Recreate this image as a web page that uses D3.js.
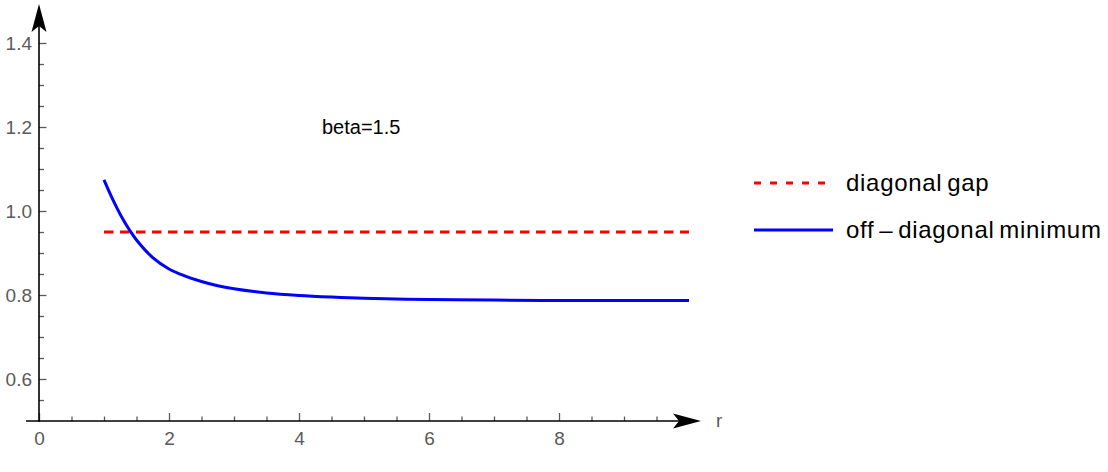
<!DOCTYPE html>
<html>
<head>
<meta charset="utf-8">
<script src="https://cdn.jsdelivr.net/npm/d3@7"></script>
<style>
  body { margin: 0; background: #fff; }
  text { font-family: "Liberation Sans", Arial, sans-serif; }
</style>
</head>
<body>
<div id="graph"></div>
<script>
"use strict";

// values
var rValues = [1, 1.1, 1.2, 1.3, 1.4, 1.5, 1.75, 2, 2.25, 2.5, 2.75, 3, 3.5, 4, 4.5, 5, 6, 7, 8, 9, 10];
var offDiagonal = [1.074, 1.039, 1.007, 0.978, 0.953, 0.931, 0.889, 0.862, 0.845, 0.832, 0.822,
                   0.815, 0.805, 0.799, 0.795, 0.792, 0.789, 0.788, 0.787, 0.787, 0.787];
var diagonalGap = 0.95;
var xMajor = [0, 2, 4, 6, 8];
var xMinor = [0.5, 1, 1.5, 2.5, 3, 3.5, 4.5, 5, 5.5, 6.5, 7, 7.5, 8.5, 9, 9.5];
var yMajor = [0.6, 0.8, 1.0, 1.2, 1.4];
var yMinor = [0.55, 0.65, 0.7, 0.75, 0.85, 0.9, 0.95, 1.05, 1.1, 1.15, 1.25, 1.3, 1.35, 1.45];
var legendLabels = ["diagonal gap", "off \u2013 diagonal minimum"];

var w = 1108,
    h = 472,
    tickColor = "#5a5a5a";

var x = d3.scaleLinear().domain([0, 10]).range([39, 689]);
var y = d3.scaleLinear().domain([0.5, 1.5]).range([421, 1]);

var svg = d3.select("#graph")
            .append("svg")
            .attr("width", w)
            .attr("height", h);

// x axis ticks (pointing up), major and minor
var xAxisMinor = d3.axisBottom(x).tickValues(xMinor).tickSize(-4.5).tickFormat("");
var xAxisMajor = d3.axisBottom(x).tickValues(xMajor).tickSize(-8).tickPadding(11)
                   .tickFormat(d3.format("d"));
[xAxisMinor, xAxisMajor].forEach(function (ax) {
  var g = svg.append("g").attr("transform", "translate(0," + y(0.5) + ")").call(ax);
  g.select(".domain").remove();
  g.selectAll(".tick line").attr("stroke", tickColor).attr("stroke-width", 1.3);
  g.selectAll(".tick text").attr("fill", tickColor).attr("font-size", 19)
    .attr("font-family", "Liberation Sans, Arial, sans-serif");
});

// y axis ticks (pointing right)
var yAxisMinor = d3.axisLeft(y).tickValues(yMinor).tickSize(-5).tickFormat("");
var yAxisMajor = d3.axisLeft(y).tickValues(yMajor).tickSize(-7.5).tickPadding(7)
                   .tickFormat(d3.format(".1f"));
[yAxisMinor, yAxisMajor].forEach(function (ax) {
  var g = svg.append("g").attr("transform", "translate(" + x(0) + ",0)").call(ax);
  g.select(".domain").remove();
  g.selectAll(".tick line").attr("stroke", tickColor).attr("stroke-width", 1.3);
  g.selectAll(".tick text").attr("fill", tickColor).attr("font-size", 19)
    .attr("font-family", "Liberation Sans, Arial, sans-serif");
});

// axis lines with arrow heads
svg.append("line")
  .attr("x1", 26).attr("y1", y(0.5))
  .attr("x2", 680).attr("y2", y(0.5))
  .attr("stroke", "#000").attr("stroke-width", 1.6);
svg.append("line")
  .attr("x1", x(0)).attr("y1", y(0.5) + 1)
  .attr("x2", x(0)).attr("y2", 20)
  .attr("stroke", "#000").attr("stroke-width", 1.6);

function arrow(tx, ty, dir) {
  // dir: "right" or "up"
  var p;
  if (dir === "right") {
    p = [[tx, ty], [tx - 28, ty - 7.5], [tx - 22, ty], [tx - 28, ty + 7.5]];
  } else {
    p = [[tx, ty], [tx - 7.5, ty + 28], [tx, ty + 22], [tx + 7.5, ty + 28]];
  }
  svg.append("path")
    .attr("d", d3.line()(p) + "Z")
    .attr("fill", "#000");
}
arrow(701, y(0.5), "right");
arrow(x(0), 4, "up");

svg.append("text")
  .attr("x", 716).attr("y", 427)
  .attr("fill", tickColor)
  .attr("font-size", 19)
  .text("r");

// series
var line = d3.line()
  .curve(d3.curveCatmullRom)
  .x(function (d, i) { return x(rValues[i]); })
  .y(function (d) { return y(d); });

svg.append("line")
  .attr("x1", x(1)).attr("x2", x(10))
  .attr("y1", y(diagonalGap)).attr("y2", y(diagonalGap))
  .attr("stroke", "#ff0000")
  .attr("stroke-width", 3)
  .attr("stroke-dasharray", "9.5,6.5");

svg.append("path")
  .datum(offDiagonal)
  .attr("d", line)
  .attr("fill", "none")
  .attr("stroke", "#0000ff")
  .attr("stroke-width", 3);

// annotation
svg.append("text")
  .attr("x", 322).attr("y", 134)
  .attr("font-size", 20)
  .attr("fill", "#000")
  .text("beta=1.5");

// legend
var legendColors = ["#ff0000", "#0000ff"],
    legendDash = ["7,9", null],
    legendY = [183, 230];

var legend = svg.selectAll(".legend")
  .data(legendLabels)
  .enter()
  .append("g")
  .attr("class", "legend")
  .attr("transform", function (d, i) { return "translate(0," + legendY[i] + ")"; });

legend.append("line")
  .attr("x1", 754).attr("x2", 833)
  .attr("y1", 0).attr("y2", 0)
  .attr("stroke", function (d, i) { return legendColors[i]; })
  .attr("stroke-width", 3)
  .attr("stroke-dasharray", function (d, i) { return legendDash[i]; });

legend.append("text")
  .attr("x", 846).attr("y", 8)
  .attr("font-size", 24)
  .attr("fill", "#000")
  .attr("letter-spacing", 0.7)
  .attr("word-spacing", -2.5)
  .text(function (d) { return d; });
</script>
</body>
</html>
